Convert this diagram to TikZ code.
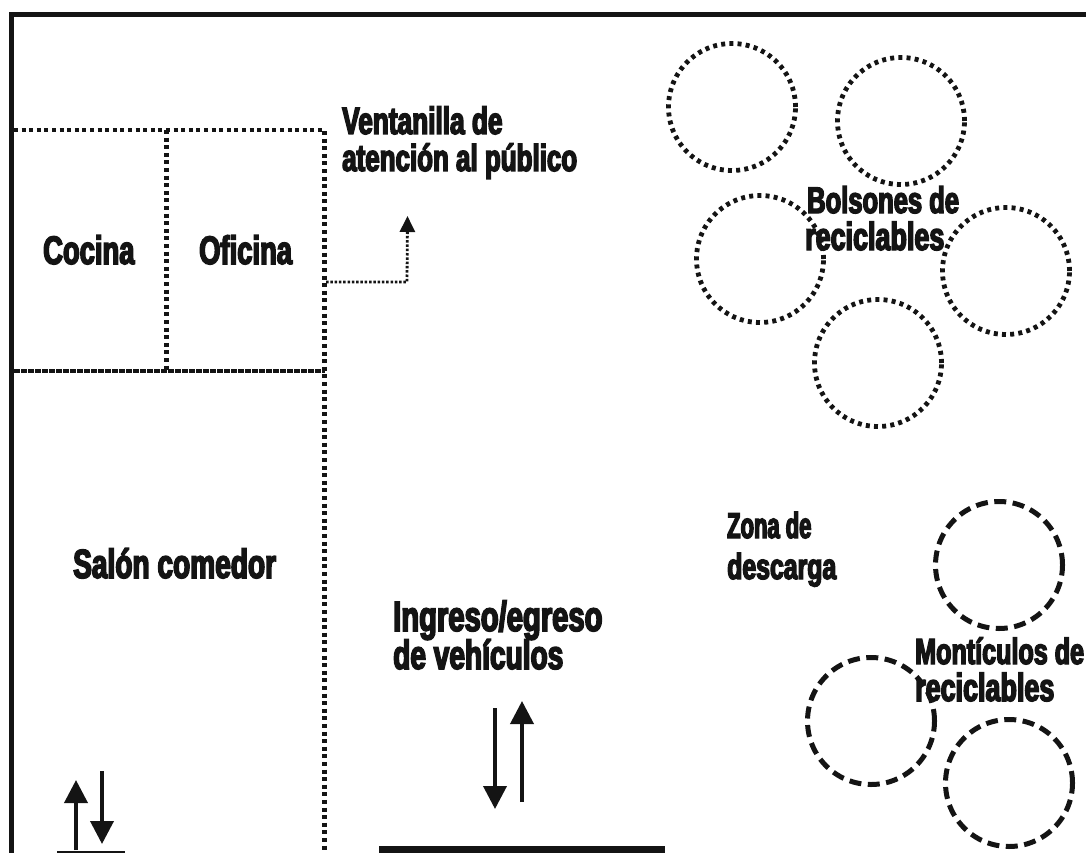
\documentclass[tikz,border=0pt]{standalone}
\usepackage{fontspec}
\usetikzlibrary{arrows.meta}
\newfontfamily\rotulofont[FakeStretch=0.69,FakeBold=3.8]{Liberation Sans Bold}
\newfontfamily\zonafont[FakeStretch=0.61,FakeBold=3.8]{Liberation Sans Bold}
\tikzset{
	rotulo/.style={inner sep=0pt,anchor=base west,align=left,text=black!92,font=\rotulofont\fontsize{#1}{38}\selectfont},
	rotulozona/.style={inner sep=0pt,anchor=base west,align=left,text=black!92,font=\zonafont\fontsize{#1}{38}\selectfont},
	muro/.style={line width=5pt,draw=black!92},
	tabique/.style={line width=4.6pt,draw=black!92,dash pattern=on 4pt off 3.6pt},
	tabiquedenso/.style={line width=4pt,draw=black!92,dash pattern=on 5.5pt off 1.5pt},
	bolson/.style={draw=black!92,circle,inner sep=0pt,minimum size=127pt,line width=4.8pt,dash pattern=on 4pt off 4.2pt},
	monticulo/.style={draw=black!92,circle,inner sep=0pt,minimum size=127pt,line width=5pt,dash pattern=on 12pt off 6.5pt},
	flecha/.style={line width=3.8pt,draw=black!92,-{Triangle[width=23pt,length=23pt]}},
	flechita/.style={line width=2.8pt,draw=black!92,dash pattern=on 2.5pt off 1.8pt,-{Triangle[width=15pt,length=16pt]}}
}
\begin{document}
\begin{tikzpicture}[x=1pt,y=-1pt]
	\useasboundingbox (0,0) rectangle (1086,853);
	
	% walls
	\draw[muro] (11,853) -- (11,14.5) -- (1086,14.5);
	\fill[black!92] (57,851) rectangle (125,853);
	\fill[black!92] (379,846) rectangle (665,853);
	
	% rooms
	\coordinate (aa) at (14,130);
	\coordinate (ab) at (166.5,130);
	\coordinate (ac) at (324.5,130);
	\coordinate (ba) at (14,370.5);
	\coordinate (bb) at (166.5,370.5);
	\coordinate (bc) at (324.5,370.5);
	\coordinate (cc) at (324.5,853);
	\draw[tabique] (aa) -- (ac) -- (cc);
	\draw[tabique] (ab) -- (bb);
	\draw[tabiquedenso] (ba) -- (bc);
	
	% window
	\coordinate (v1) at (326,282);
	\coordinate (v2) at (407,282);
	\coordinate (v3) at (407.5,216);
	\draw[flechita] (v1) -- (v2) -- (v3);
	
	% bags
	\node[bolson] (b1) at (732,107) {};
	\node[bolson] (b2) at (901,121) {};
	\node[bolson] (b3) at (760,259) {};
	\node[bolson] (b4) at (1006,271) {};
	\node[bolson] (b5) at (878,363) {};
	
	% mounds
	\node[monticulo] (m1) at (999,565) {};
	\node[monticulo] (m2) at (871,721) {};
	\node[monticulo] (m3) at (1009,783) {};
	
	% labels
	\node[rotulo=39.7] (cocina) at (43,264) {Cocina};
	\node[rotulo=39.7] (oficina) at (199,264) {Oficina};
	\node[rotulo=38] (ventanilla) at (342,134) {Ventanilla de};
	\node[rotulo=37.6] (atencion) at (342,171) {atención al público};
	\node[rotulo=37] (bolsones) at (807,213) {Bolsones de};
	\node[rotulo=39] (reciclablesa) at (805,250) {reciclables};
	\node[rotulozona=36] (zona) at (727,538) {Zona de};
	\node[rotulo=36] (descarga) at (727,579) {descarga};
	\node[rotulo=40.7] (salon) at (73,578) {Salón comedor};
	\node[rotulo=42.3] (ingreso) at (393,631) {Ingreso/egreso};
	\node[rotulo=40.7] (vehiculos) at (393,669) {de vehículos};
	\node[rotulo=36.4] (monticulos) at (915,664) {Montículos de};
	\node[rotulo=39] (reciclablesb) at (915,701) {reciclables};
	
	% arrows
	\coordinate (e1) at (76,850);
	\coordinate (e2) at (76,780);
	\coordinate (e3) at (102,771);
	\coordinate (e4) at (102,844);
	\coordinate (e5) at (495,708);
	\coordinate (e6) at (495,809);
	\coordinate (e7) at (522,802);
	\coordinate (e8) at (522,701);
	\draw[flecha] (e1) -- (e2);
	\draw[flecha] (e3) -- (e4);
	\draw[flecha] (e5) -- (e6);
	\draw[flecha] (e7) -- (e8);
\end{tikzpicture}
\end{document}
